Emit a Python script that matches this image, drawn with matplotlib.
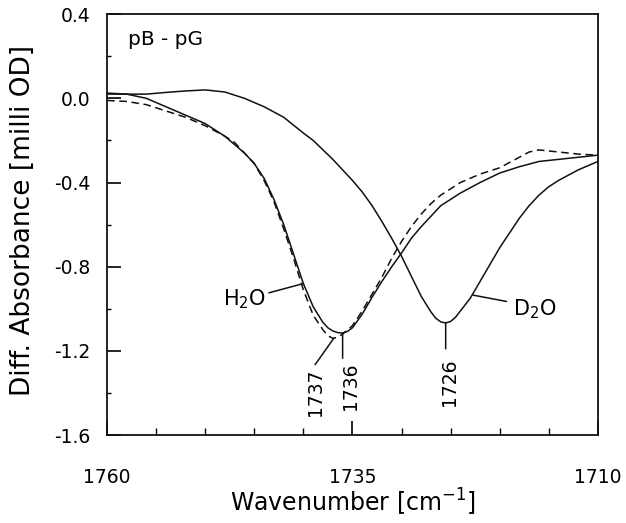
import numpy as np
import matplotlib
matplotlib.use("Agg")
import matplotlib.pyplot as plt
from matplotlib.ticker import MultipleLocator

plt.rcParams["font.family"] = ["DejaVu Sans"]

# wavenumbers (cm-1) and difference absorbance (milli OD)
h2o_x = [1760, 1758, 1756, 1754, 1752, 1750, 1748, 1746, 1745, 1744, 1743, 1742,
         1741, 1740, 1739, 1738, 1737.5, 1737, 1736.5, 1736, 1735.5, 1735, 1734, 1733,
         1732, 1731, 1730, 1729, 1728, 1727, 1726, 1724, 1722, 1720, 1718, 1716,
         1714, 1712, 1710]
h2o_y = [0.02, 0.02, 0.0, -0.04, -0.08, -0.12, -0.18, -0.26, -0.31, -0.38, -0.48, -0.60,
         -0.74, -0.88, -0.99, -1.065, -1.09, -1.105, -1.113, -1.115, -1.107, -1.09, -1.025, -0.945,
         -0.87, -0.80, -0.735, -0.665, -0.61, -0.56, -0.51, -0.45, -0.40, -0.355, -0.325, -0.30,
         -0.29, -0.28, -0.27]

h2o_b_x = [1760, 1758, 1756, 1754, 1752, 1750, 1748, 1747, 1746, 1745, 1744, 1743,
           1742, 1741, 1740, 1739, 1738, 1737.5, 1737, 1736.5, 1736, 1735, 1734, 1733,
           1732, 1731, 1730, 1729, 1728, 1727, 1726, 1724, 1722, 1720, 1718, 1717,
           1716, 1714, 1712, 1710]
h2o_b_y = [-0.01, -0.015, -0.03, -0.06, -0.09, -0.13, -0.18, -0.21, -0.26, -0.31, -0.39, -0.49,
           -0.62, -0.76, -0.91, -1.03, -1.10, -1.128, -1.14, -1.135, -1.12, -1.08, -1.01, -0.93,
           -0.85, -0.76, -0.68, -0.61, -0.55, -0.50, -0.46, -0.40, -0.36, -0.33, -0.28, -0.255,
           -0.245, -0.255, -0.265, -0.27]

d2o_x = [1760, 1758, 1756, 1754, 1752, 1750, 1748, 1746, 1744, 1742, 1740, 1739,
         1738, 1737, 1736, 1735, 1734, 1733, 1732, 1731, 1730, 1729, 1728, 1727,
         1726.5, 1726, 1725.5, 1725, 1724.5, 1724, 1723, 1722, 1721, 1720, 1719, 1718,
         1717, 1716, 1715, 1714, 1713, 1712, 1711, 1710]
d2o_y = [0.025, 0.02, 0.02, 0.028, 0.035, 0.04, 0.03, 0.0, -0.04, -0.09, -0.165, -0.20,
         -0.245, -0.29, -0.34, -0.39, -0.445, -0.51, -0.585, -0.665, -0.75, -0.845, -0.94, -1.015,
         -1.045, -1.062, -1.067, -1.06, -1.04, -1.01, -0.95, -0.87, -0.79, -0.71, -0.64, -0.57,
         -0.51, -0.46, -0.42, -0.39, -0.365, -0.34, -0.32, -0.30]

x_ticks = [1760, 1735, 1710]
y_ticks = [0.4, 0.0, -0.4, -0.8, -1.2, -1.6]

fig = plt.figure(figsize=(6.26, 5.23), dpi=100)
ax = fig.add_axes([0.171, 0.168, 0.784, 0.805])

lc = "#111111"
ax.plot(h2o_x, h2o_y, color=lc, lw=1.1)
ax.plot(h2o_b_x, h2o_b_y, color=lc, lw=1.1, ls=(0, (5, 3)))
ax.plot(d2o_x, d2o_y, color=lc, lw=1.1)

ax.set_xlim(1760, 1710)
ax.set_ylim(-1.6, 0.4)
ax.set_xticks(x_ticks)
ax.set_yticks(y_ticks)
ax.set_yticklabels([f"{v:.1f}" for v in y_ticks])
ax.xaxis.set_minor_locator(MultipleLocator(5))
ax.yaxis.set_minor_locator(MultipleLocator(0.2))
ax.tick_params(which="major", direction="in", length=10, width=1.2, labelsize=13.5)
ax.tick_params(which="minor", direction="in", length=5, width=1.0)
ax.tick_params(axis="y", which="minor", length=3)
ax.tick_params(axis="x", which="major", pad=24)
ax.tick_params(axis="y", which="major", pad=12)
ax.tick_params(top=False, right=False, which="both")
for s in ax.spines.values():
    s.set_linewidth(1.3)
    s.set_color(lc)

ax.set_xlabel("Wavenumber [cm$^{-1}$]", fontsize=17, labelpad=0)
ax.set_ylabel("Diff. Absorbance [milli OD]", fontsize=19)
ax.yaxis.set_label_coords(-0.145, 0.51)

ax.text(1757.9, 0.28, "pB - pG", fontsize=14.5, va="center", ha="left")

# peak markers
i1 = int(np.argmin(h2o_y))
i2 = int(np.argmin(h2o_b_y))
i3 = int(np.argmin(d2o_y))
ann = dict(arrowstyle="-", color=lc, lw=1.1, shrinkA=0, shrinkB=0)

ax.annotate("", xy=(h2o_x[i1], h2o_y[i1]), xytext=(h2o_x[i1], -1.235), arrowprops=ann)
ax.text(1735.2, -1.255, "1736", rotation=90, ha="center", va="top", fontsize=13.5)

ax.annotate("", xy=(h2o_b_x[i2] - 0.1, h2o_b_y[i2]), xytext=(1738.8, -1.265), arrowprops=ann)
ax.text(1738.8, -1.285, "1737", rotation=90, ha="center", va="top", fontsize=13.5)

ax.annotate("", xy=(d2o_x[i3], d2o_y[i3]), xytext=(d2o_x[i3], -1.19), arrowprops=ann)
ax.text(1725.1, -1.235, "1726", rotation=90, ha="center", va="top", fontsize=13.5)

# solvent labels
j = h2o_x.index(1740)
ax.annotate("H$_2$O", xy=(h2o_x[j], h2o_y[j]), xytext=(1743.8, -0.955),
            ha="right", va="center", fontsize=15, arrowprops=ann)
ax.annotate("", xy=(1722.7, -0.935), xytext=(1719.3, -0.965), arrowprops=ann)
ax.text(1718.6, -1.0, "D$_2$O", ha="left", va="center", fontsize=15)

fig.savefig("out.png", dpi=100)
